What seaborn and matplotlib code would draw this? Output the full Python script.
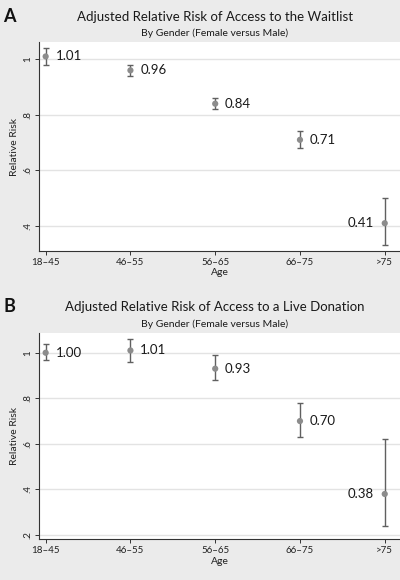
import matplotlib
matplotlib.use("Agg")
import matplotlib.pyplot as plt
import seaborn as sns
import pandas as pd
import numpy as np

ages = ["18\u201345", "46\u201355", "56\u201365", "66\u201375", ">75"]

wait_rr = [1.01, 0.96, 0.84, 0.71, 0.41]
wait_lo = [0.98, 0.94, 0.82, 0.68, 0.33]
wait_hi = [1.04, 0.98, 0.86, 0.74, 0.50]
wait_labels = ["1.01", "0.96", "0.84", "0.71", "0.41"]

live_rr = [1.00, 1.01, 0.93, 0.70, 0.38]
live_lo = [0.97, 0.96, 0.88, 0.63, 0.24]
live_hi = [1.04, 1.06, 0.99, 0.78, 0.62]
live_labels = ["1.00", "1.01", "0.93", "0.70", "0.38"]

yticks_a = [0.4, 0.6, 0.8, 1.0]
yticklabels_a = [".4", ".6", ".8", "1"]
yticks_b = [0.2, 0.4, 0.6, 0.8, 1.0]
yticklabels_b = [".2", ".4", ".6", ".8", "1"]

sns.set_theme(style="white")
plt.rcParams['font.family'] = ['Lato', 'DejaVu Sans']

BG = "#ebebeb"
fig = plt.figure(figsize=(4.0, 5.8), dpi=100, facecolor=BG)

def panel(ax_rect, rr, lo, hi, labels, ylim, yticks, yticklabels, title, letter, title_y, sub_y, letter_y):
    ax = fig.add_axes(ax_rect)
    ax.set_facecolor("white")
    df = pd.DataFrame({"Age": ages, "RR": rr})
    x = np.arange(len(ages))
    yerr = [np.array(rr) - np.array(lo), np.array(hi) - np.array(rr)]
    ax.errorbar(x, rr, yerr=yerr, fmt="none", ecolor="#606060", elinewidth=1.0,
                capsize=2.5, capthick=1.0, zorder=2)
    sns.scatterplot(data=df, x="Age", y="RR", ax=ax, color="#8c8c8c", s=20,
                    edgecolor="none", zorder=3, legend=False)
    for i, (v, lab) in enumerate(zip(rr, labels)):
        if i == len(rr) - 1:
            ax.annotate(lab, (i, v), xytext=(-8, 0), textcoords="offset points",
                        ha="right", va="center", fontsize=9.5, color="#1a1a1a")
        else:
            ax.annotate(lab, (i, v), xytext=(7, 0), textcoords="offset points",
                        ha="left", va="center", fontsize=9.5, color="#1a1a1a")
    ax.set_xlim(-0.075, 4.18)
    ax.set_ylim(*ylim)
    ax.set_xticks(x)
    ax.set_xticklabels(ages, fontsize=7)
    ax.set_yticks(yticks)
    ax.set_yticklabels(yticklabels, fontsize=7, rotation=90, va="center")
    ax.yaxis.grid(True, color="#e3e3e3", linewidth=1.0)
    ax.set_axisbelow(True)
    for s in ["top", "right"]:
        ax.spines[s].set_visible(False)
    for s in ["left", "bottom"]:
        ax.spines[s].set_color("#333333")
        ax.spines[s].set_linewidth(0.8)
    ax.tick_params(axis="both", direction="out", length=3, width=0.7, color="#333333",
                   left=True, bottom=True, pad=2, labelcolor="#222222")
    ax.set_xlabel("Age", fontsize=7.5, labelpad=1, color="#222222")
    ax.set_ylabel("Relative Risk", fontsize=7.5, labelpad=3, color="#222222")
    fig.text(0.5375, title_y, title, ha="center", va="center", fontsize=9.5, color="#1a1a1a")
    fig.text(0.5375, sub_y, "By Gender (Female versus Male)", ha="center", va="center",
             fontsize=7.5, color="#1a1a1a")
    fig.text(0.008, letter_y, letter, ha="left", va="center", fontsize=13, fontweight="bold",
             color="#111111")
    return ax

W, H = 400.0, 580.0
# panel A axes: left 39.3, right 400, top 42, bottom 251
panel([39.3 / W, 1 - 251 / H, (400 - 39.3) / W, (251 - 42) / H],
      wait_rr, wait_lo, wait_hi, wait_labels, (0.31, 1.062), yticks_a, yticklabels_a,
      "Adjusted Relative Risk of Access to the Waitlist", "A",
      1 - 17 / H, 1 - 33.5 / H, 1 - 16 / H)
# panel B axes: top 332.7, bottom 539.3
panel([39.3 / W, 1 - 539.3 / H, (400 - 39.3) / W, (539.3 - 332.7) / H],
      live_rr, live_lo, live_hi, live_labels, (0.181, 1.088), yticks_b, yticklabels_b,
      "Adjusted Relative Risk of Access to a Live Donation", "B",
      1 - 307 / H, 1 - 324 / H, 1 - 306 / H)

fig.savefig("out.png", dpi=100, facecolor=BG)
